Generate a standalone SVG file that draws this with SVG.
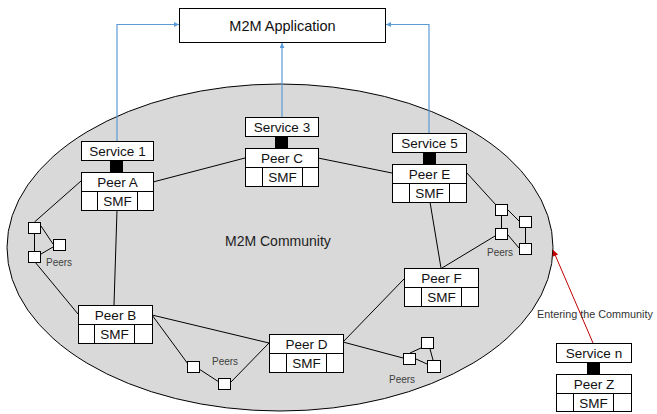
<svg xmlns="http://www.w3.org/2000/svg" width="657" height="414" viewBox="0 0 657 414">
  <defs>
    <style>
      .bg { fill: #ffffff; }
      .community { fill: #d9d9d9; stroke: #000; stroke-width: 1; }
      .box { fill: #ffffff; stroke: #000; stroke-width: 1; }
      .plug { fill: #000; }
      .lbl { font-family: "Liberation Sans", Arial, sans-serif; font-size: 13.5px; fill: #111; text-anchor: middle; }
      .app { font-family: "Liberation Sans", Arial, sans-serif; font-size: 14.5px; fill: #111; text-anchor: middle; }
      .title { font-family: "Liberation Sans", Arial, sans-serif; font-size: 14px; fill: #222; }
      .note { font-family: "Liberation Sans", Arial, sans-serif; font-size: 10px; fill: #404040; }
      .entry { font-family: "Liberation Sans", Arial, sans-serif; font-size: 10.8px; fill: #333; }
      .link { stroke: #000; stroke-width: 1; fill: none; }
      .up { stroke: #5b9bd5; stroke-width: 1.2; fill: none; marker-end: url(#blueHead); }
      .join { stroke: #c00000; stroke-width: 1; fill: none; marker-end: url(#redHead); }
      .dot { fill: #ffffff; stroke: #000; stroke-width: 1; }
    </style>
    <marker id="blueHead" viewBox="0 0 10 10" refX="10" refY="5" markerWidth="5" markerHeight="5" orient="auto" markerUnits="userSpaceOnUse">
      <path d="M0,0 L10,5 L0,10 z" fill="#5b9bd5"/>
    </marker>
    <marker id="redHead" viewBox="0 0 10 10" refX="10" refY="5" markerWidth="7" markerHeight="6" orient="auto" markerUnits="userSpaceOnUse">
      <path d="M0,0 L10,5 L0,10 z" fill="#c00000"/>
    </marker>
  </defs>

  <rect class="bg" x="0" y="0" width="657" height="414"/>

  <!-- community area -->
  <g id="community">
    <ellipse class="community" cx="280" cy="247.5" rx="273" ry="163.5"/>
    <text class="title" x="225" y="246">M2M Community</text>
  </g>

  <!-- application -->
  <g id="m2m-application">
    <rect class="box" x="179.5" y="8.5" width="206" height="34"/>
    <text class="app" x="282.5" y="30.5">M2M Application</text>
  </g>

  <!-- connectors -->
  <g id="connectors">
    <polyline class="up" points="117,141 117,24.5 179,24.5"/>
    <line class="up" x1="282" y1="117" x2="282" y2="43"/>
    <polyline class="up" points="429,133 429,24.5 386,24.5"/>
    <line class="join" x1="593" y1="343" x2="553" y2="250"/>

    <line class="link" x1="153" y1="182" x2="245" y2="158"/>
    <line class="link" x1="318" y1="158" x2="392" y2="173"/>
    <line class="link" x1="81" y1="181" x2="34.5" y2="222"/>
    <line class="link" x1="117" y1="210" x2="114" y2="305"/>
    <line class="link" x1="35" y1="262" x2="78" y2="314"/>
    <line class="link" x1="152" y1="315" x2="269" y2="343"/>
    <line class="link" x1="152" y1="315" x2="188" y2="364"/>
    <line class="link" x1="199" y1="369" x2="219" y2="382"/>
    <line class="link" x1="231" y1="382" x2="269" y2="343"/>
    <line class="link" x1="343" y1="342" x2="404" y2="279"/>
    <line class="link" x1="343" y1="342" x2="403" y2="358"/>
    <line class="link" x1="430" y1="202" x2="441" y2="268"/>
    <line class="link" x1="442" y1="268" x2="495" y2="236"/>
    <line class="link" x1="466" y1="172" x2="496" y2="205"/>

    <!-- peer clusters -->
    <line class="link" x1="34.5" y1="233" x2="34.5" y2="251"/>
    <line class="link" x1="41" y1="226" x2="53" y2="244"/>
    <line class="link" x1="41" y1="254" x2="53" y2="247"/>

    <line class="link" x1="501.5" y1="215" x2="501.5" y2="228"/>
    <line class="link" x1="508" y1="210" x2="519" y2="221"/>
    <line class="link" x1="525.5" y1="227" x2="525.5" y2="243"/>
    <line class="link" x1="508" y1="235" x2="519" y2="248"/>

    <line class="link" x1="410" y1="353" x2="421" y2="348"/>
    <line class="link" x1="430" y1="349" x2="433" y2="360"/>
    <line class="link" x1="416" y1="359" x2="427" y2="364"/>
  </g>

  <!-- small peers -->
  <g id="peers-left">
    <rect class="dot" x="28.5" y="222.5" width="12" height="11"/>
    <rect class="dot" x="28.5" y="251.5" width="12" height="11"/>
    <rect class="dot" x="53.5" y="239.5" width="12" height="11"/>
    <text class="note" x="46" y="266">Peers</text>
  </g>
  <g id="peers-bottom">
    <rect class="dot" x="187.5" y="361.5" width="12" height="11"/>
    <rect class="dot" x="218.5" y="378.5" width="12" height="11"/>
    <text class="note" x="212" y="365">Peers</text>
  </g>
  <g id="peers-right">
    <rect class="dot" x="495.5" y="204.5" width="12" height="11"/>
    <rect class="dot" x="495.5" y="228.5" width="12" height="11"/>
    <rect class="dot" x="519.5" y="216.5" width="12" height="11"/>
    <rect class="dot" x="519.5" y="243.5" width="12" height="11"/>
    <text class="note" x="487" y="256">Peers</text>
  </g>
  <g id="peers-lower-right">
    <rect class="dot" x="403.5" y="353.5" width="12" height="11"/>
    <rect class="dot" x="421.5" y="337.5" width="12" height="11"/>
    <rect class="dot" x="427.5" y="360.5" width="13" height="12"/>
    <text class="note" x="389" y="383">Peers</text>
  </g>

  <!-- Peer A with Service 1 -->
  <g id="peer-a">
    <rect class="box" x="81.5" y="141.5" width="72" height="19"/>
    <text class="lbl" x="117.5" y="156">Service 1</text>
    <rect class="plug" x="110" y="160" width="13" height="12"/>
    <rect class="box" x="81.5" y="172.5" width="72" height="19"/>
    <text class="lbl" x="117.5" y="187">Peer A</text>
    <rect class="box" x="81.5" y="191.5" width="72" height="19"/>
    <rect class="box" x="97.5" y="191.5" width="40" height="19"/>
    <text class="lbl" x="117.5" y="206">SMF</text>
  </g>

  <!-- Peer C with Service 3 -->
  <g id="peer-c">
    <rect class="box" x="245.5" y="117.5" width="73" height="19"/>
    <text class="lbl" x="282" y="132">Service 3</text>
    <rect class="plug" x="275" y="136" width="13" height="12"/>
    <rect class="box" x="245.5" y="148.5" width="73" height="19"/>
    <text class="lbl" x="282" y="163">Peer C</text>
    <rect class="box" x="245.5" y="167.5" width="73" height="19"/>
    <rect class="box" x="262.5" y="167.5" width="40" height="19"/>
    <text class="lbl" x="282.5" y="182">SMF</text>
  </g>

  <!-- Peer E with Service 5 -->
  <g id="peer-e">
    <rect class="box" x="392.5" y="133.5" width="74" height="19"/>
    <text class="lbl" x="429.5" y="148">Service 5</text>
    <rect class="plug" x="423" y="152" width="13" height="12"/>
    <rect class="box" x="392.5" y="164.5" width="74" height="19"/>
    <text class="lbl" x="429.5" y="179">Peer E</text>
    <rect class="box" x="392.5" y="183.5" width="74" height="19"/>
    <rect class="box" x="409.5" y="183.5" width="40" height="19"/>
    <text class="lbl" x="429.5" y="198">SMF</text>
  </g>

  <!-- Peer B -->
  <g id="peer-b">
    <rect class="box" x="78.5" y="305.5" width="74" height="19"/>
    <text class="lbl" x="115.5" y="320">Peer B</text>
    <rect class="box" x="78.5" y="324.5" width="74" height="19"/>
    <rect class="box" x="94.5" y="324.5" width="40" height="19"/>
    <text class="lbl" x="114.5" y="339">SMF</text>
  </g>

  <!-- Peer D -->
  <g id="peer-d">
    <rect class="box" x="269.5" y="334.5" width="74" height="19"/>
    <text class="lbl" x="306.5" y="349">Peer D</text>
    <rect class="box" x="269.5" y="353.5" width="74" height="19"/>
    <rect class="box" x="286.5" y="353.5" width="40" height="19"/>
    <text class="lbl" x="306.5" y="368">SMF</text>
  </g>

  <!-- Peer F -->
  <g id="peer-f">
    <rect class="box" x="404.5" y="268.5" width="74" height="19"/>
    <text class="lbl" x="441.5" y="283">Peer F</text>
    <rect class="box" x="404.5" y="287.5" width="74" height="19"/>
    <rect class="box" x="421.5" y="287.5" width="40" height="19"/>
    <text class="lbl" x="441.5" y="302">SMF</text>
  </g>

  <!-- Peer Z with Service n, outside the community -->
  <g id="peer-z">
    <text class="entry" x="537" y="318">Entering the Community</text>
    <rect class="box" x="556.5" y="343.5" width="75" height="19"/>
    <text class="lbl" x="594" y="358">Service n</text>
    <rect class="plug" x="587" y="362" width="13" height="12"/>
    <rect class="box" x="556.5" y="374.5" width="75" height="19"/>
    <text class="lbl" x="594" y="389">Peer Z</text>
    <rect class="box" x="556.5" y="393.5" width="75" height="18"/>
    <rect class="box" x="573.5" y="393.5" width="40" height="18"/>
    <text class="lbl" x="593.5" y="407.5">SMF</text>
  </g>
</svg>
